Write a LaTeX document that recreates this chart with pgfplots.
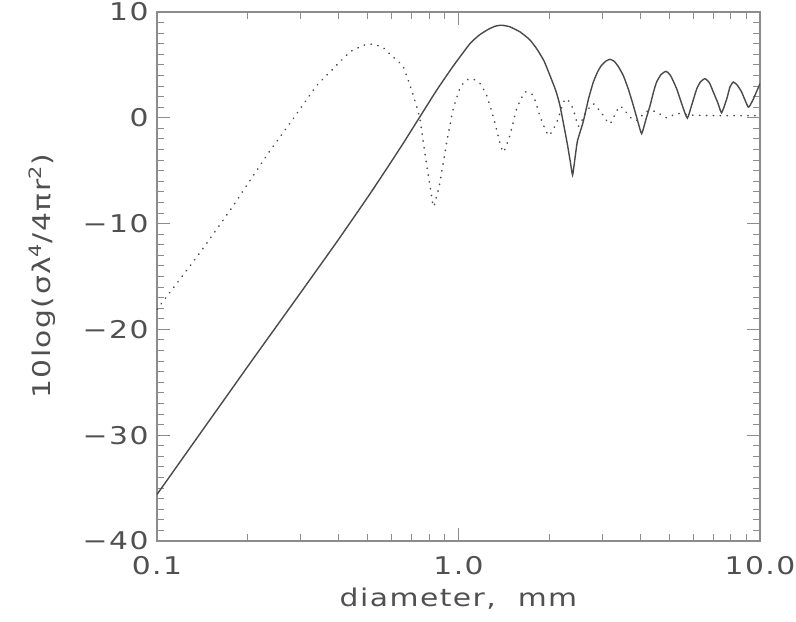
\documentclass[border=0pt]{standalone}
\usepackage{pgfplots}
\pgfplotsset{compat=1.18}
\usepackage{fontspec}
\setmainfont{DejaVu Sans}[FakeStretch=1.22, LetterSpace=6]
\definecolor{axgray}{HTML}{8C8C8C}
\definecolor{txtgray}{HTML}{505050}
\definecolor{crv}{HTML}{4A4A4A}
\begin{document}
\begin{tikzpicture}
\begin{axis}[name=ax, xmode=log, scale only axis, width=603bp, height=529bp,
  xmin=0.1, xmax=10, ymin=-40, ymax=10,
  xtick={0.1,1,10}, xticklabels={0.1,1.0,10.0},
  minor xtick={0.2,0.3,0.4,0.5,0.6,0.7,0.8,0.9,2,3,4,5,6,7,8,9},
  ytick={-40,-30,-20,-10,0,10}, yticklabels={−40,−30,−20,−10,0,10},
  minor y tick num=9,
  tick align=inside, major tick length=13bp, minor tick length=7bp,
  axis line style={axgray, line width=1.2bp},
  every tick/.style={axgray, line width=1bp},
  ticklabel style={font=\fontsize{24.5}{29}\selectfont, text=txtgray},
  xticklabel style={yshift=-12bp},
  yticklabel style={xshift=-5bp},
  label style={font=\fontsize{24.5}{29}\selectfont, text=txtgray},
  xlabel={diameter,\ \ mm},
  ylabel={10log(σλ\textsuperscript{4}/4πr\textsuperscript{2})},
  ylabel style={yshift=20bp},
  xlabel style={yshift=-6bp},
]
\addplot[crv, line width=1.4bp, smooth, tension=0.3] coordinates {
(0.1,-35.6) (0.2,-23.5) (0.3,-16.5) (0.4,-11.5) (0.5,-7.5) (0.528,-6.5)
(0.6,-4.1) (0.656,-2.4) (0.745,0.1) (0.846,2.6) (0.961,4.9) (1.091,7.0)
(1.17,7.8) (1.241,8.28) (1.32,8.65) (1.39,8.75) (1.48,8.6) (1.60,8.12)
(1.72,7.4) (1.816,6.54) (1.92,5.4) (2.01,4.01) (2.10,2.6) (2.17,1.17)
(2.29,-2.3) (2.35,-4.2) (2.39,-5.4) (2.43,-4.0) (2.48,-2.2) (2.59,-0.41)
(2.70,1.8) (2.80,3.38) (2.90,4.4) (2.98,4.95) (3.08,5.35) (3.18,5.53)
(3.28,5.35) (3.38,4.9) (3.52,4.0) (3.66,2.7) (3.80,1.17) (3.93,-0.3)
(4.05,-1.5) (4.18,-0.2) (4.32,1.17) (4.43,2.4) (4.54,3.38) (4.70,4.1)
(4.88,4.39) (5.05,4.0) (5.29,2.75) (5.52,1.2) (5.74,-0.03) (5.95,1.3)
(6.17,2.75) (6.35,3.4) (6.57,3.7) (6.80,3.3) (7.0,2.44) (7.25,1.4)
(7.46,0.47) (7.76,1.8) (7.95,2.9) (8.15,3.38) (8.40,3.1) (8.69,2.44)
(9.14,1.01) (9.40,1.5) (9.62,2.12) (10,3.22)
};
\addplot[crv, line width=1.6bp, line cap=round, dash pattern=on 0.4bp off 6.5bp, smooth, tension=0.3] coordinates {
(0.1,-18.1) (0.139,-12.73) (0.179,-8.31) (0.231,-3.57) (0.283,-0.09)
(0.339,3.06) (0.375,4.33) (0.437,6.23) (0.496,6.95) (0.53,6.9) (0.564,6.6)
(0.593,6.0) (0.656,4.8) (0.708,2.12) (0.745,-0.09) (0.764,-2.3) (0.785,-4.52)
(0.81,-7.0) (0.826,-8.4) (0.845,-7.5) (0.868,-6.1) (0.914,-2.3) (0.961,0.85)
(1.01,2.75) (1.05,3.45) (1.09,3.70) (1.13,3.6) (1.18,3.22) (1.24,2.12)
(1.31,-0.09) (1.37,-2.3) (1.41,-3.25) (1.48,-1.68) (1.56,0.85) (1.66,2.44)
(1.77,2.12) (1.86,0.22) (1.99,-1.68) (2.12,-0.41) (2.23,1.49) (2.29,1.80)
(2.40,0.85) (2.50,-0.8) (2.63,0.38) (2.80,1.33) (3.02,0.22) (3.18,-0.57)
(3.43,1.1) (3.71,0.06) (3.9,-0.25) (4.2,0.6) (4.5,0.6) (4.9,0.0)
(5.3,0.4) (6,0.25) (7,0.2) (8,0.2) (10,0.2)
};
\end{axis}
\pgfresetboundingbox
\path[use as bounding box] ([shift={(-157bp,-81bp)}]ax.south west) rectangle ([shift={(36bp,12bp)}]ax.north east);
\end{tikzpicture}
\end{document}
